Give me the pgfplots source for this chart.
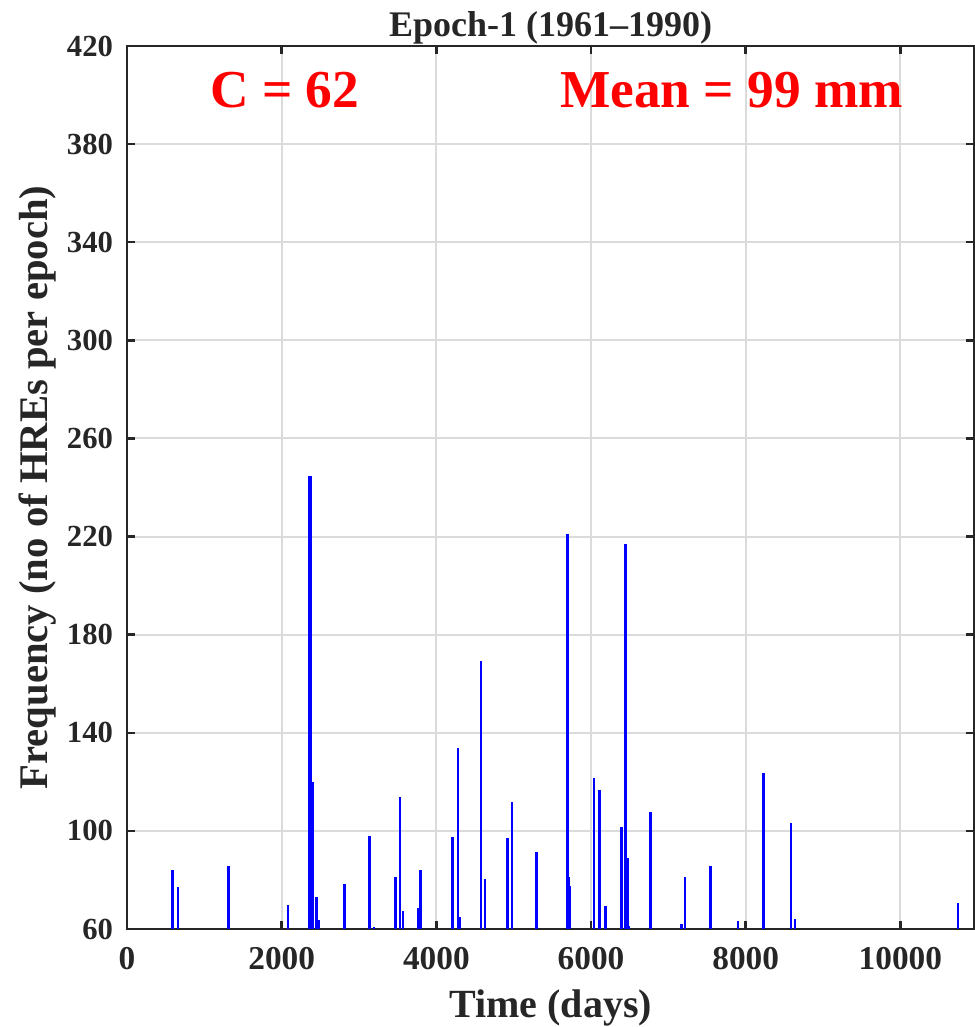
\documentclass[border=0pt]{standalone}
\usepackage{fontspec}
\setmainfont{Liberation Serif}
\usepackage{pgfplots}
\pgfplotsset{compat=1.18}
\pgfplotsset{layers/mylayers/.define layer set={axis background,axis grid,main,axis ticks,axis lines,axis tick labels,axis descriptions,axis foreground}{}}
\definecolor{axgray}{rgb}{0.15,0.15,0.15}
\definecolor{gridgray}{rgb}{0.86,0.86,0.86}
\begin{document}
\begin{tikzpicture}
\begin{axis}[
  set layers=mylayers,
  scale only axis, width=635.5pt, height=662.25pt,
  xmin=0, xmax=10957, ymin=60, ymax=420,
  xtick={0,2000,4000,6000,8000,10000},
  ytick={60,100,140,180,220,260,300,340,380,420},
  scaled x ticks=false,
  /pgf/number format/1000 sep={},
  /pgf/number format/assume math mode=true,
  tick align=inside, tick pos=both,
  major tick length=6pt,
  every tick/.style={axgray, line width=1.9pt},
  axis line style={axgray, line width=1.9pt},
  grid=major, major grid style={gridgray, line width=1.5pt},
  xticklabel style={font=\fontsize{25}{25}\selectfont\bfseries, text=axgray, yshift=-10pt},
  yticklabel style={font=\fontsize{23}{23}\selectfont\bfseries, text=axgray, xshift=-7pt},
  xlabel={Time (days)}, ylabel={Frequency (no of HREs per epoch)},
  xlabel style={font=\fontsize{30}{30}\selectfont\bfseries, text=axgray, at={(axis description cs:0.5,0)}, anchor=base, yshift=-66.5pt},
  ylabel style={font=\fontsize{30.5}{30.5}\selectfont\bfseries, text=axgray, at={(axis description cs:-0.1058,0.5)}, anchor=center},
  title={Epoch-1 (1961–1990)},
  every axis title/.style={font=\fontsize{27}{27}\selectfont\bfseries, text=axgray, at={(axis description cs:0.5,1)}, anchor=base, yshift=7pt},
]
\addplot[ycomb, blue, line width=2.1pt] table {
x y
587 84.2
660 77.0
1311 85.5
2082 69.6
2360 244.5
2368 244.5
2405 120.1
2449 73
2475 63.7
2815 78.2
3135 97.8
3194 61
3471 81.2
3530 113.7
3569 67.2
3772 68.6
3798 83.9
4208 97.5
4280 133.6
4306 64.8
4578 169.3
4630 80.5
4923 96.9
4979 111.9
5298 91.4
5695 221.2
5716 81.1
5729 77.7
6039 121.5
6113 116.7
6186 69.5
6397 101.4
6449 217.1
6470 89
6492 61.4
6768 107.8
7169 62
7216 81.4
7544 85.5
7901 63.4
8234 123.5
8587 103.3
8638 64.1
10746 70.5
};
\node[anchor=base, text=red, font=\fontsize{40}{40}\selectfont\bfseries] at (axis cs:2039,395.1) {C = 62};
\node[anchor=base, text=red, font=\fontsize{40}{40}\selectfont\bfseries] at (axis cs:7820,395.1) {Mean = 99 mm};
\coordinate (bl) at (rel axis cs:0,0);
\coordinate (tr) at (rel axis cs:1,1);
\end{axis}
\pgfresetboundingbox
\path ([xshift=-95.25pt,yshift=-73.5pt]bl) rectangle ([yshift=34.5pt]tr);
\end{tikzpicture}
\end{document}
